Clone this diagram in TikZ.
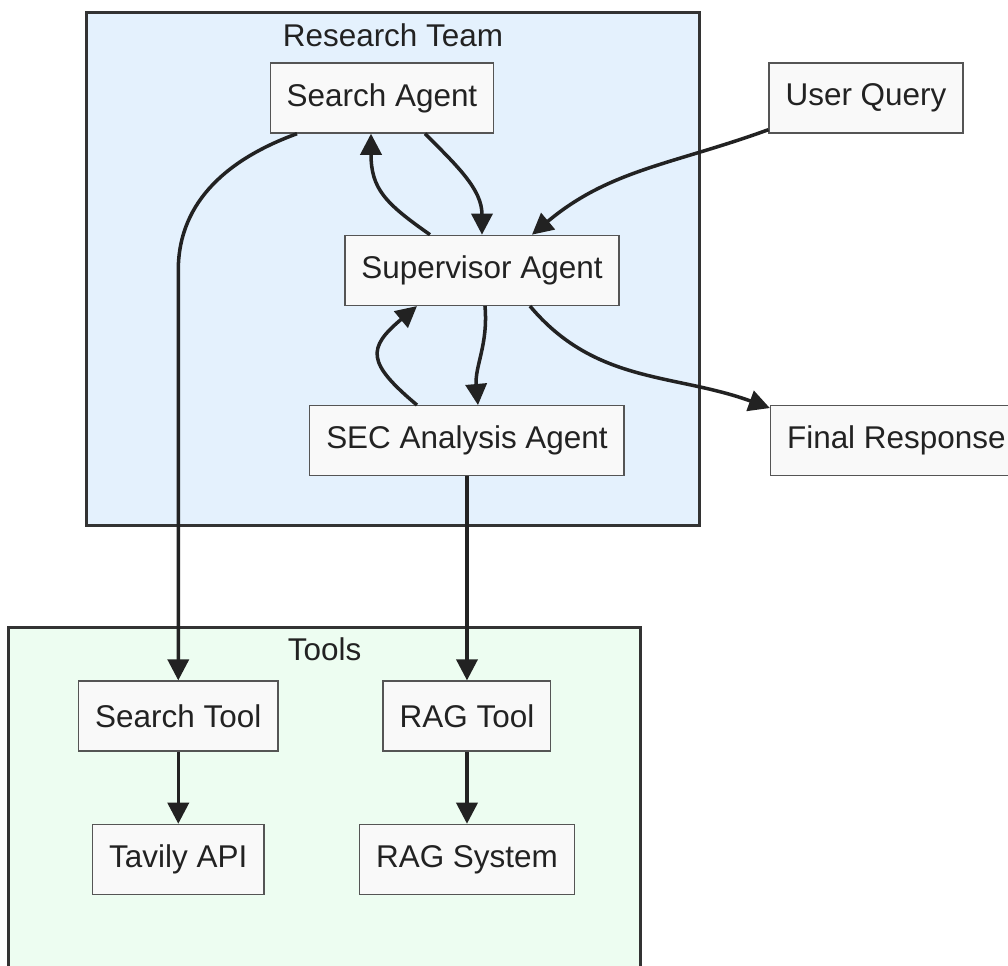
\documentclass[tikz,border=0pt]{standalone}
\usepackage{fontspec}
\setmainfont{Liberation Sans}
\usetikzlibrary{arrows.meta,positioning,calc}
\definecolor{teamfill}{HTML}{E4F1FD}
\definecolor{toolfill}{HTML}{EDFDF1}
\definecolor{boxfill}{HTML}{F9F9F9}
\definecolor{boxline}{HTML}{555555}
\definecolor{cluline}{HTML}{333333}
\definecolor{ink}{HTML}{222222}
\tikzset{
  blk/.style={draw=boxline,fill=boxfill,rectangle,line width=0.8pt,minimum height=1.4cm,inner xsep=0.33cm,text=ink,font=\fontsize{17.9}{21}\selectfont},
  teamclu/.style={draw=cluline,fill=teamfill,line width=1.7pt,rectangle},
  toolclu/.style={draw=cluline,fill=toolfill,line width=1.7pt,rectangle},
  clulbl/.style={text=ink,font=\fontsize{17.9}{21}\selectfont,inner sep=0pt},
  arr/.style={-{Triangle[length=12pt,width=12pt]},line width=2pt,draw=ink}
}
\begin{document}
\begin{tikzpicture}[x=0.02cm,y=-0.02cm]
  \path[use as bounding box] (0,0) rectangle (1008,966);
  \clip (0,0) rectangle (1008,966);

  \node[teamclu,minimum width=12.28cm,minimum height=10.28cm] (team) at (393,269) {};
  \node[clulbl] (teamlbl) at ([yshift=-0.5cm]team.north) {Research Team};
  \node[toolclu,minimum width=12.66cm,minimum height=7.4cm] (tools) at (324.5,812) {};
  \node[clulbl] (toolslbl) at ([yshift=-0.47cm]tools.north) {Tools};

  \node[blk] (search) at (382,98) {Search Agent};
  \node[blk, right=5.48cm of search] (query) {User Query};
  \node[blk, below=2.02cm of search, xshift=2cm] (sup) {Supervisor Agent};
  \node[blk, below=1.98cm of sup, xshift=-0.3cm] (sec) {SEC Analysis Agent};
  \node[blk, right=2.9cm of sec] (final) {Final Response};
  \node[blk, below=4.08cm of sec] (rtool) {RAG Tool};
  \node[blk, left=2.08cm of rtool] (stool) {Search Tool};
  \node[blk, below=1.44cm of stool] (tavily) {Tavily API};
  \node[blk, below=1.44cm of rtool] (ragsys) {RAG System};

  \draw[arr] ([xshift=0.86cm]search.south) to[out=-45,in=90] (sup.north);
  \draw[arr] ([xshift=-1.04cm]sup.north) to[out=145,in=-90,looseness=1.2] ([xshift=-0.22cm]search.south);
  \draw[arr] ([yshift=0.08cm]query.south west) to[out=200,in=40] ([xshift=1cm]sup.north);
  \draw[arr] ([xshift=0.06cm]sup.south) to[out=-85,in=95] ([xshift=0.22cm]sec.north);
  \draw[arr] ([xshift=-1cm]sec.north) to[out=140,in=-140,looseness=1.7] ([xshift=-1.3cm]sup.south);
  \draw[arr] ([xshift=0.96cm]sup.south) to[out=-50,in=160] ([yshift=-0.06cm]final.north west);
  \draw[arr] ([xshift=-1.7cm]search.south) to[out=-160,in=90] (stool.north |- sup.center) -- (stool.north);
  \draw[arr] (sec.south) -- (rtool.north);
  \draw[arr] (stool) -- (tavily);
  \draw[arr] (rtool) -- (ragsys);
\end{tikzpicture}
\end{document}
